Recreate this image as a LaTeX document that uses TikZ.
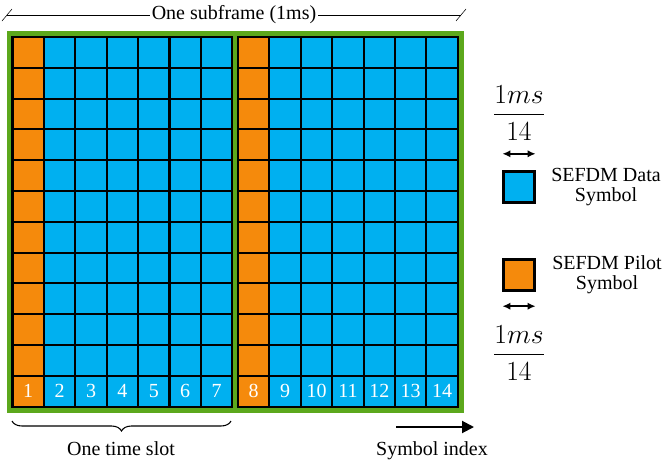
\documentclass[tikz,border=0pt]{standalone}
\usepackage{amsmath}
\usepackage{fontspec}
\setmainfont{LiberationSerif}[Extension=.ttf, UprightFont=*-Regular, BoldFont=*-Bold]
\usetikzlibrary{arrows.meta,decorations.pathreplacing}
\definecolor{framegreen}{RGB}{92,168,28}
\definecolor{datablue}{RGB}{0,176,240}
\definecolor{pilotorange}{RGB}{245,138,12}

\tikzset{
  cell/.style={draw=black, line width=1.6pt, minimum width=23.55pt, minimum height=23.1pt,
    inner sep=0pt, outer sep=0pt, anchor=north west, text=white, font=\rmfamily\fontsize{15}{15}\selectfont},
  legbox/.style={draw=black, line width=1.8pt, minimum size=23pt, inner sep=0pt},
  txt/.style={font=\rmfamily\fontsize{15}{15}\selectfont, align=center},
  frac/.style={font=\fontsize{21}{21}\selectfont},
  legarrow/.style={line width=1.1pt, {Latex[length=6pt,width=5.5pt]}-{Latex[length=6pt,width=5.5pt]}},
}

\begin{document}
\begin{tikzpicture}[x=0.75pt,y=-0.75pt]
            \useasboundingbox (0,0) rectangle (664,468);

            % Green frame
            \fill[framegreen] (7,31) rectangle (464,413);

            % Cells of the two slots
            \foreach \s/\xs in {0/12.5,1/238}
                \foreach \c in {1,...,7}{
                    \pgfmathtruncatemacro{\n}{7*\s+\c}
                    \ifnum\c=1 \def\cellcol{pilotorange}\else\def\cellcol{datablue}\fi
                    \foreach \r in {1,...,12}{
                        \ifnum\r=12 \edef\lbl{\n}\else\def\lbl{}\fi
                        \node[cell, fill=\cellcol] (c\n-\r) at ({\xs+(\c-1)*31.4},{37+(\r-1)*30.8}) {\lbl};
                    }
                }

            % Subframe length
            \coordinate (sfL) at (7,15);
            \coordinate (sfR) at (461,15);
            \draw[thin] (sfL) -- (sfR) node[midway, fill=white, inner sep=1.5pt, txt] (sf) {One subframe (1ms)};
            \draw[thin] ([shift={(-5,6)}]sfL) -- ([shift={(5,-6)}]sfL);
            \draw[thin] ([shift={(-5,6)}]sfR) -- ([shift={(5,-6)}]sfR);

            % Time slot brace
            \coordinate (slotL) at (12,421);
            \coordinate (slotR) at (231,421);
            \draw[thick, decorate, decoration={brace, mirror, amplitude=7.5pt}] (slotL) -- (slotR);
            \node[txt] (slot) at (121,449) {One time slot};

            % Symbol index
            \coordinate (siA) at (396,427);
            \coordinate (siB) at (474,427);
            \draw[line width=1.5pt, -{Triangle[length=9pt,width=9pt]}] (siA) -- (siB);
            \node[txt] (si) at (432,451) {Symbol index};

            % Legend
            \node[frac] (fracA) at (519,113) {$\dfrac{1ms}{14}$};
            \node[legbox, fill=datablue] (dataBox) at (519,187) {};
            \node[txt] (dataTxt) at (606,187) {SEFDM Data\\Symbol};
            \draw[legarrow] ([yshift=12.5pt]dataBox.north west) -- ([yshift=12.5pt]dataBox.north east);

            \node[legbox, fill=pilotorange] (pilotBox) at (519,275) {};
            \node[txt] (pilotTxt) at (607,275) {SEFDM Pilot\\Symbol};
            \draw[legarrow] ([yshift=-11pt]pilotBox.south west) -- ([yshift=-11pt]pilotBox.south east);
            \node[frac] (fracB) at (519,353) {$\dfrac{1ms}{14}$};
        \end{tikzpicture}
\end{document}
